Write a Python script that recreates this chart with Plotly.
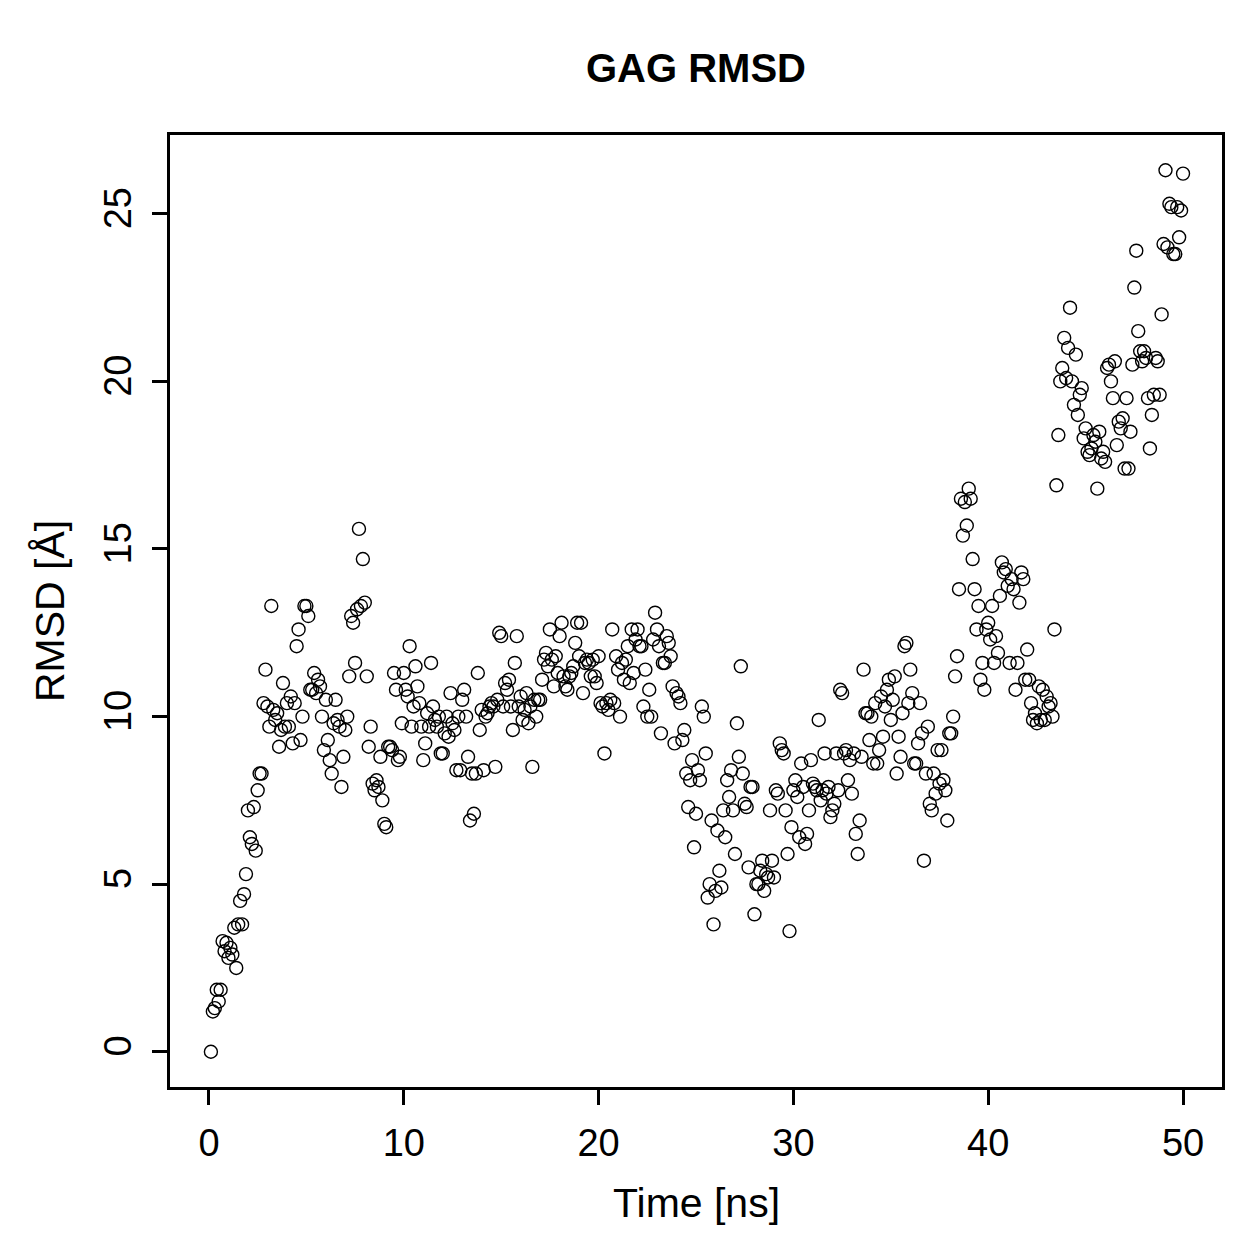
import plotly.graph_objects as go

rmsd = [
 0.0, 1.2, 1.3, 1.85, 1.5, 1.85, 3.3, 3.0, 3.25, 2.8, 3.1, 2.9, 3.7, 2.5, 3.8, 4.5, 3.8, 4.7, 5.3,
 7.2, 6.4, 6.2, 7.3, 6.0, 7.8, 8.3, 8.3, 10.4, 11.4, 10.3, 9.7, 13.3, 10.2, 9.9, 10.1, 9.1, 9.6, 11.0, 9.7,
 10.4, 9.7, 10.6, 9.2, 10.4, 12.1, 12.6, 9.3, 10.0, 13.3, 13.3, 13.0, 10.8, 10.8, 11.3, 10.7, 11.1, 10.9, 10.0, 9.0,
 10.5, 9.3, 8.7, 8.3, 9.8, 10.5, 9.9, 9.7, 7.9, 8.8, 9.6, 10.0, 11.2, 13.0, 12.8, 11.6, 13.2, 15.6, 13.3, 14.7,
 13.4, 11.2, 9.1, 9.7, 8.0, 7.8, 8.1, 7.9, 8.8, 7.5, 6.8, 6.7, 9.1, 9.1, 9.0, 11.3, 10.8, 8.7, 8.8, 9.8,
 11.3, 10.8, 10.6, 12.1, 9.7, 10.3, 11.5, 10.9, 10.4, 9.7, 8.7, 9.2, 10.1, 9.7, 11.6, 10.3, 9.9, 9.7, 10.0, 8.9,
 8.9, 9.5, 10.0, 9.4, 10.7, 9.8, 9.6, 8.4, 10.0, 8.4, 10.5, 10.8, 10.0, 8.8, 6.9, 8.3, 7.1, 8.3, 11.3, 9.6,
 10.2, 8.4, 10.0, 10.1, 10.3, 10.4, 10.3, 8.5, 10.5, 12.5, 12.4, 10.3, 11.0, 10.8, 11.1, 10.3, 9.6, 11.6, 12.4, 10.3,
 10.6, 9.9, 10.2, 10.7, 9.8, 10.3, 8.5, 10.5, 10.0, 10.5, 10.5, 11.1, 11.7, 11.9, 11.5, 12.6, 11.7, 10.9, 11.8, 11.3,
 12.4, 12.8, 11.2, 10.9, 10.8, 11.2, 11.3, 11.5, 12.2, 12.8, 11.8, 12.8, 10.7, 11.6, 11.7, 11.6, 11.2, 11.7, 11.2, 11.0,
 11.8, 10.4, 10.3, 8.9, 10.4, 10.2, 10.5, 12.6, 10.4, 11.8, 11.4, 10.0, 11.6, 11.1, 11.7, 12.1, 11.0, 12.6, 11.3, 12.3,
 12.6, 12.1, 12.1, 10.3, 11.4, 10.0, 10.8, 10.0, 12.3, 13.1, 12.6, 12.1, 9.5, 11.6, 11.6, 12.4, 12.2, 11.8, 10.9, 9.2,
 10.7, 10.6, 10.4, 9.3, 9.6, 8.3, 7.3, 8.1, 8.7, 6.1, 7.1, 8.4, 8.1, 10.3, 10.0, 8.9, 4.6, 5.0, 6.9, 3.8,
 4.8, 6.6, 5.4, 4.9, 7.2, 6.4, 8.1, 7.6, 8.4, 7.2, 5.9, 9.8, 8.8, 11.5, 8.3, 7.4, 7.3, 5.5, 7.9, 7.9,
 4.1, 5.0, 5.0, 5.4, 5.7, 4.8, 5.3, 5.2, 7.2, 5.7, 5.2, 7.8, 7.7, 9.2, 9.0, 8.9, 7.2, 5.9, 3.6, 6.7,
 7.8, 8.1, 7.6, 6.4, 8.6, 7.9, 6.2, 6.5, 7.2, 8.7, 8.0, 7.9, 7.8, 9.9, 7.5, 7.8, 8.9, 7.7, 7.9, 7.0,
 7.2, 7.4, 8.9, 7.8, 10.8, 10.7, 8.9, 9.0, 8.1, 8.7, 7.7, 8.9, 6.5, 5.9, 6.9, 8.8, 11.4, 10.1, 10.1, 9.3,
 10.0, 8.6, 10.4, 8.6, 9.0, 10.6, 9.4, 10.3, 10.8, 11.1, 9.9, 10.5, 11.2, 8.3, 9.4, 8.8, 10.1, 12.1, 12.2, 10.4,
 11.4, 10.7, 8.6, 8.6, 9.2, 10.4, 9.5, 5.7, 8.3, 9.7, 7.4, 7.2, 8.3, 7.7, 9.0, 8.0, 9.0, 8.1, 7.8, 6.9,
 9.5, 9.5, 10.0, 11.2, 11.8, 13.8, 16.5, 15.4, 16.4, 15.7, 16.8, 16.5, 14.7, 13.8, 12.6, 13.3, 11.1, 11.6, 10.8, 12.6,
 12.8, 12.3, 13.3, 11.6, 12.4, 11.9, 13.6, 14.6, 14.3, 14.4, 13.9, 11.6, 14.1, 13.8, 10.8, 11.6, 13.4, 14.3, 14.1, 11.1,
 12.0, 11.1, 10.4, 9.9, 10.1, 9.8, 10.9, 9.9, 10.8, 9.9, 10.6, 10.3, 10.4, 10.0, 12.6, 16.9, 18.4, 20.0, 20.4, 21.3,
 20.1, 21.0, 22.2, 20.0, 19.3, 20.8, 19.0, 19.6, 19.8, 18.3, 18.6, 17.9, 17.8, 18.0, 18.4, 18.2, 16.8, 18.5, 17.7, 17.9,
 17.6, 20.4, 20.5, 20.0, 19.5, 20.6, 18.1, 18.8, 18.6, 18.9, 17.4, 19.5, 17.4, 18.5, 20.5, 22.8, 23.9, 21.5, 20.9, 20.6,
 20.9, 20.7, 19.5, 18.0, 19.0, 19.6, 20.7, 20.6, 19.6, 22.0, 24.1, 26.3, 24.0, 25.3, 25.2, 23.8, 23.8, 25.2, 24.3, 25.1,
 26.2,
]
time_ns = [round((i + 1) * 0.1, 1) for i in range(len(rmsd))]

x_ticks = [0, 10, 20, 30, 40, 50]
y_ticks = [0, 5, 10, 15, 20, 25]

FONT = "Liberation Sans, Arial, Helvetica, sans-serif"

fig = go.Figure(go.Scatter(
    x=time_ns, y=rmsd, mode="markers",
    marker=dict(symbol="circle-open", size=13, color="black", line=dict(width=1.4, color="black")),
    showlegend=False,
))

fig.update_layout(
    width=1259, height=1259,
    margin=dict(l=170, r=37, t=135, b=172),
    paper_bgcolor="white", plot_bgcolor="white",
    font=dict(family=FONT, size=38, color="black"),
    title=dict(text="<b>GAG RMSD</b>", x=(170 + 1222) / 2 / 1259, xanchor="center",
               y=1 - 68 / 1259, yanchor="middle", yref="container",
               font=dict(family=FONT, size=40, color="black")),
)

fig.update_xaxes(
    range=[-2, 52], tickvals=x_ticks, ticktext=[str(v) for v in x_ticks],
    showgrid=False, zeroline=False, showline=True, linecolor="black", linewidth=2.5, mirror=True,
    ticks="outside", ticklen=15, tickwidth=2.5, tickcolor="black",
    tickfont=dict(family=FONT, size=38, color="black"), ticklabelstandoff=6,
)
fig.update_yaxes(
    range=[-1.052, 27.352], tickvals=y_ticks, ticktext=[str(v) for v in y_ticks],
    showgrid=False, zeroline=False, showline=True, linecolor="black", linewidth=2.5, mirror=True,
    ticks="outside", ticklen=15, tickwidth=2.5, tickcolor="black", tickangle=-90,
    tickfont=dict(family=FONT, size=38, color="black"), ticklabelstandoff=6,
)

fig.add_annotation(text="Time [ns]", xref="paper", yref="paper", x=0.5, y=-(1203 - 1087) / (1087 - 135),
                   showarrow=False, xanchor="center", yanchor="middle",
                   font=dict(family=FONT, size=41, color="black"))
fig.add_annotation(text="RMSD [Å]", xref="paper", yref="paper", x=-(170 - 50) / (1222 - 170), y=0.5,
                   showarrow=False, xanchor="center", yanchor="middle", textangle=-90,
                   font=dict(family=FONT, size=41, color="black"))

fig.write_html("out.html")
